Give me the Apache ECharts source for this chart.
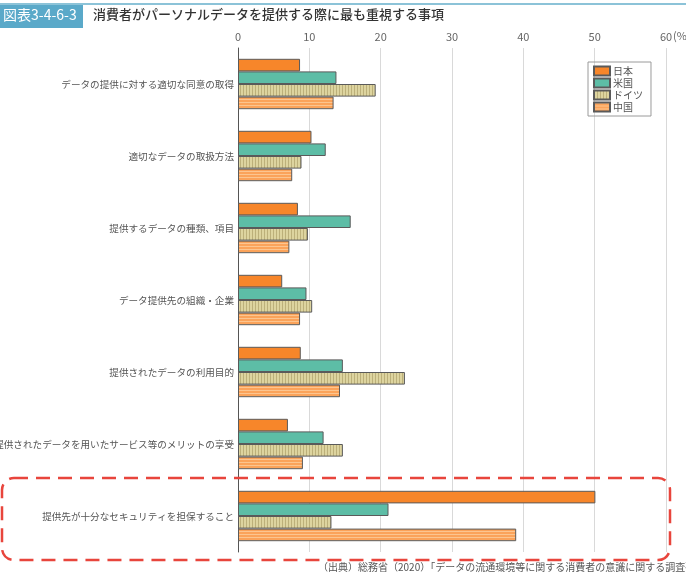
<!DOCTYPE html>
<html>
<head>
<meta charset="utf-8">
<script src="https://cdn.jsdelivr.net/npm/echarts@6/dist/echarts.min.js"></script>
<style>
  html, body { margin: 0; padding: 0; background: #fff; }
  #chart { width: 686px; height: 574px; }
</style>
</head>
<body>
<div id="chart"></div>
<script>
const categories = [
  'データの提供に対する適切な同意の取得',
  '適切なデータの取扱方法',
  '提供するデータの種類、項目',
  'データ提供先の組織・企業',
  '提供されたデータの利用目的',
  '提供されたデータを用いたサービス等のメリットの享受',
  '提供先が十分なセキュリティを担保すること'
]
const japan = [8.7, 10.3, 8.4, 6.2, 8.8, 7.0, 50.1]
const usa = [13.8, 12.3, 15.8, 9.6, 14.7, 12.0, 21.1]
const germany = [19.3, 8.9, 9.8, 10.4, 23.4, 14.7, 13.1]
const china = [13.4, 7.6, 7.2, 8.7, 14.3, 9.1, 39.0]
const seriesNames = ['日本', '米国', 'ドイツ', '中国']

const FONT = '"Noto Sans CJK JP", "Noto Sans", sans-serif'

// striped fills for ドイツ (vertical) and 中国 (horizontal)
function stripes(base, line, vertical) {
  const c = document.createElement('canvas')
  c.width = 3
  c.height = 3
  const ctx = c.getContext('2d')
  ctx.fillStyle = base
  ctx.fillRect(0, 0, 3, 3)
  ctx.fillStyle = line
  if (vertical) ctx.fillRect(0, 0, 1, 3)
  else ctx.fillRect(0, 0, 3, 1)
  return { image: c, repeat: 'repeat' }
}

const fills = [
  '#f7862a',
  '#5dbda6',
  stripes('#ddd49f', '#bcb07a', true),
  stripes('#fba35a', '#fcc58f', false)
]
const values = [japan, usa, germany, china]

const chart = echarts.init(document.getElementById('chart'))

chart.setOption({
  animation: false,
  textStyle: { fontFamily: FONT },
  grid: { left: 238, right: 20, top: 48, bottom: 22, outerBoundsMode: 'none', containLabel: false },
  legend: {
    data: seriesNames,
    orient: 'vertical',
    left: 588,
    top: 62,
    itemWidth: 16,
    itemHeight: 9,
    itemGap: 0,
    padding: [3, 8, 3, 5],
    borderColor: '#9a9a9a',
    borderWidth: 1,
    icon: 'rect',
    textStyle: { fontSize: 10, color: '#555', fontFamily: FONT, padding: [0, 0, 0, -2], lineHeight: 12 }
  },
  xAxis: {
    type: 'value',
    position: 'top',
    min: 0,
    max: 60,
    interval: 10,
    axisLine: { show: false },
    axisTick: { show: false },
    axisLabel: { color: '#666', fontSize: 11, margin: 6 },
    splitLine: { lineStyle: { color: '#d9d9d9', width: 1 } }
  },
  yAxis: {
    type: 'category',
    data: categories,
    inverse: true,
    axisLine: { lineStyle: { color: '#555', width: 1 } },
    axisTick: { show: false },
    axisLabel: { color: '#555', fontSize: 9.6, margin: 4 }
  },
  series: seriesNames.map((name, i) => ({
    name,
    type: 'bar',
    data: values[i],
    barGap: '0%',
    barCategoryGap: '30%',
    itemStyle: { color: fills[i], borderColor: '#5a5a5a', borderWidth: 1 }
  })),
  graphic: [
    { type: 'rect', shape: { x: 0, y: 3, width: 686, height: 2 }, style: { fill: '#8cc3d8' } },
    { type: 'rect', shape: { x: 0, y: 5, width: 83, height: 23 }, style: { fill: '#5aa9c9' } },
    {
      type: 'text', left: 3, top: 8,
      style: { text: '図表3-4-6-3', fill: '#fff', font: '14px ' + FONT }
    },
    {
      type: 'text', left: 93, top: 8,
      style: { text: '消費者がパーソナルデータを提供する際に最も重視する事項', fill: '#333', font: '500 13px ' + FONT }
    },
    {
      type: 'text', left: 673, top: 30,
      style: { text: '(%)', fill: '#666', font: '11px ' + FONT }
    },
    {
      type: 'rect',
      shape: { x: 2, y: 478, width: 668, height: 82, r: 12 },
      style: { fill: 'none', stroke: '#e8453c', lineWidth: 2.5, lineDash: [14, 8] },
      z: 10
    },
    {
      type: 'text', left: 318, top: 562,
      style: {
        text: '（出典）総務省（2020）「データの流通環境等に関する消費者の意識に関する調査研究」',
        fill: '#555', font: '10px ' + FONT
      }
    }
  ]
})
</script>
</body>
</html>
